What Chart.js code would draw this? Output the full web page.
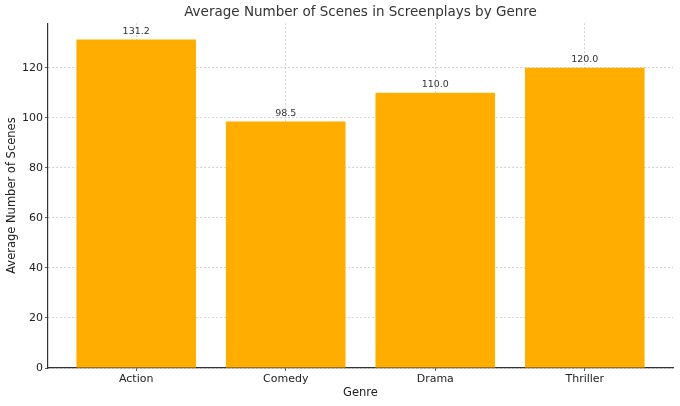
<!DOCTYPE html>
<html>
<head>
<meta charset="utf-8">
<script src="https://cdn.jsdelivr.net/npm/chart.js@4"></script>
<style>
  html, body { margin: 0; padding: 0; background: #fff; }
  #wrap { width: 680px; height: 406px; }
</style>
</head>
<body>
<div id="wrap"><canvas id="chart"></canvas></div>
<script>
const genres = ['Action', 'Comedy', 'Drama', 'Thriller'];
const avgScenes = [131.2, 98.5, 110.0, 120.0];
const yTicks = [0, 20, 40, 60, 80, 100, 120];

const font = "'DejaVu Sans', sans-serif";
const gridColor = 'rgba(160, 160, 160, 0.6)';

// value labels above each bar
const barLabels = {
  id: 'barLabels',
  afterDatasetsDraw(chart) {
    const ctx = chart.ctx;
    const meta = chart.getDatasetMeta(0);
    ctx.save();
    ctx.font = '9.5px ' + font;
    ctx.fillStyle = '#333';
    ctx.textAlign = 'center';
    ctx.textBaseline = 'bottom';
    meta.data.forEach((bar, i) => {
      ctx.fillText(avgScenes[i].toFixed(1), bar.x, bar.y - 3);
    });
    ctx.restore();
  }
};

const yMax = Math.max(...avgScenes) * 1.05;

new Chart(document.getElementById('chart'), {
  type: 'bar',
  data: {
    datasets: [{
      data: avgScenes.map((v, i) => ({ x: i, y: v })),
      backgroundColor: '#FFAE00',
      borderWidth: 0,
      categoryPercentage: 1,
      barPercentage: 0.8
    }]
  },
  options: {
    responsive: true,
    maintainAspectRatio: false,
    animation: false,
    layout: { padding: { top: 0, right: 7, left: 0, bottom: 0 } },
    plugins: {
      legend: { display: false },
      tooltip: { enabled: false },
      title: {
        display: true,
        text: 'Average Number of Scenes in Screenplays by Genre',
        fullSize: false,
        color: '#333',
        font: { family: font, size: 13.5, weight: 'normal' },
        padding: { top: 4, bottom: 3 }
      }
    },
    scales: {
      x: {
        type: 'linear',
        min: -0.59,
        max: 3.59,
        offset: false,
        z: 1,
        afterBuildTicks: (axis) => { axis.ticks = genres.map((g, i) => ({ value: i })); },
        afterFit: (axis) => { axis.height = 38; },
        ticks: {
          color: '#222',
          font: { family: font, size: 11 },
          padding: 2,
          callback: (v) => genres[v]
        },
        grid: {
          offset: false,
          color: gridColor,
          lineWidth: 0.8,
          tickColor: '#333',
          tickLength: 3
        },
        border: { color: '#333', width: 1.2, dash: [2, 2] },
        title: {
          display: true,
          text: 'Genre',
          color: '#222',
          font: { family: font, size: 11.5 },
          padding: { top: 0, bottom: 6 }
        }
      },
      y: {
        min: 0,
        max: yMax,
        z: 1,
        afterBuildTicks: (axis) => { axis.ticks = yTicks.map(v => ({ value: v })); },
        afterFit: (axis) => { axis.width = 48; },
        ticks: {
          color: '#222',
          font: { family: font, size: 11 },
          padding: 2
        },
        grid: {
          color: gridColor,
          lineWidth: 0.8,
          tickColor: '#333',
          tickLength: 3
        },
        border: { color: '#333', width: 1.2, dash: [2, 2] },
        title: {
          display: true,
          text: 'Average Number of Scenes',
          color: '#222',
          font: { family: font, size: 11.5 },
          padding: { top: 5, bottom: 0 }
        }
      }
    }
  },
  plugins: [barLabels]
});
</script>
</body>
</html>
